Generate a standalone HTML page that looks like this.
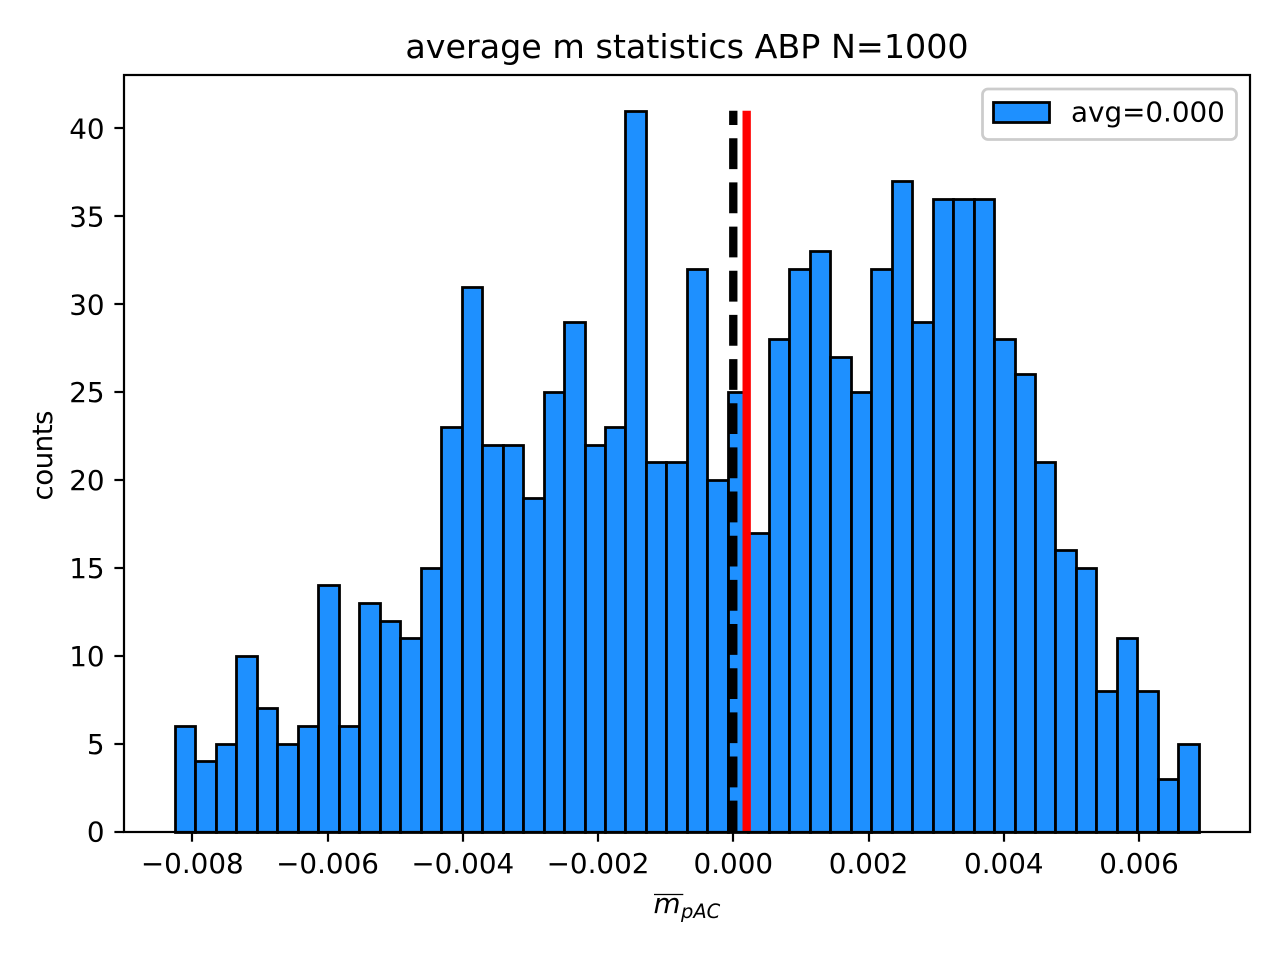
<!DOCTYPE html>
<html>
<head>
<meta charset="utf-8">
<title>average m statistics ABP N=1000</title>
<style>
html,body{margin:0;padding:0;background:#fff;}
svg{display:block;}
text{font-family:"DejaVu Sans","Liberation Sans",sans-serif;fill:#000;}
</style>
</head>
<body>
<svg id="chart" xmlns="http://www.w3.org/2000/svg" width="1280" height="960" viewBox="0 0 1280 960">
  <rect x="0" y="0" width="1280" height="960" fill="#fff"/>
  <text x="687" y="58" font-size="33.33" text-anchor="middle">average m statistics ABP N=1000</text>
  <text transform="translate(52,455.5) rotate(-90)" font-size="27.78" text-anchor="middle" textLength="90" lengthAdjust="spacing">counts</text>
  <g>
    <line x1="654" x2="683.3" y1="894.5" y2="894.5" stroke="#000" stroke-width="1.2"/>
    <text x="653.5" y="913" font-size="27.78" font-style="italic">m</text>
    <text x="681" y="918" font-size="19.44" font-style="italic">pAC</text>
  </g>
  <g id="bars"></g>
  <g id="lines"></g>
  <g id="ticks"></g>
  <g stroke="#000" stroke-width="2.2" fill="none">
    <rect x="124" y="75" width="1126" height="757"/>
  </g>
  <g>
    <rect x="982.5" y="89" width="254" height="50.5" rx="5.5" ry="5.5" fill="#fff" fill-opacity="0.8" stroke="#ccc" stroke-width="2.78"/>
    <rect x="993.5" y="102.5" width="56" height="20" fill="#1e90ff" stroke="#000" stroke-width="2.78"/>
    <text x="1071" y="121.5" font-size="27.78">avg=0.000</text>
  </g>
</svg>
<script>
const binStart = -0.008256;
const binEnd = 0.006884;
const counts = [6,4,5,10,7,5,6,14,6,13,12,11,15,23,31,22,22,19,25,29,22,23,41,21,21,32,20,25,17,28,32,33,27,25,32,37,29,36,36,36,28,26,21,16,15,8,11,8,3,5];
const xTickValues = [-0.008,-0.006,-0.004,-0.002,0,0.002,0.004,0.006];
const xTickLabels = ["\u22120.008","\u22120.006","\u22120.004","\u22120.002","0.000","0.002","0.004","0.006"];
const yTickValues = [0,5,10,15,20,25,30,35,40];
const yTickLabels = ["0","5","10","15","20","25","30","35","40"];
const zeroLineValue = 0;
const meanLineValue = 0.000198;
const lineTop = 41;

const NS = "http://www.w3.org/2000/svg";
const plotLeft = 123.8, plotRight = 1250, plotTop = 74.75, plotBottom = 831.5;
const span = binEnd - binStart;
const xMin = binStart - 0.05 * span, xMax = binEnd + 0.05 * span;
const yMax = Math.max.apply(null, counts) * 1.05;
function xScale(v){ return plotLeft + (v - xMin) / (xMax - xMin) * (plotRight - plotLeft); }
function yScale(v){ return plotBottom - v / yMax * (plotBottom - plotTop); }
function snap(p){ return Math.floor(p + 0.5) + 0.5; }
function make(tag, parent){ const el = document.createElementNS(NS, tag); parent.appendChild(el); return el; }

const barsG = document.getElementById("bars");
const binWidth = span / counts.length;
counts.forEach(function(c, i){
  const x0 = snap(xScale(binStart + i * binWidth));
  const x1 = snap(xScale(binStart + (i + 1) * binWidth));
  const y0 = snap(yScale(c));
  const y1 = snap(yScale(0));
  const r = make("rect", barsG);
  
  
  r.setAttribute("x", x0);
  r.setAttribute("y", y0);
  r.setAttribute("width", x1 - x0);
  r.setAttribute("height", y1 - y0);
  r.setAttribute("fill", "#1e90ff");
  r.setAttribute("stroke", "#000");
  r.setAttribute("stroke-width", "2.78");
});

const linesG = document.getElementById("lines");
const zeroLine = make("line", linesG);


zeroLine.setAttribute("x1", xScale(zeroLineValue));
zeroLine.setAttribute("x2", xScale(zeroLineValue));
zeroLine.setAttribute("y1", yScale(0));
zeroLine.setAttribute("y2", yScale(lineTop));
zeroLine.setAttribute("stroke", "#000");
zeroLine.setAttribute("stroke-width", "8.33");
zeroLine.setAttribute("stroke-dasharray", "30.83 13.33");

const meanLine = make("line", linesG);


meanLine.setAttribute("x1", xScale(meanLineValue));
meanLine.setAttribute("x2", xScale(meanLineValue));
meanLine.setAttribute("y1", yScale(0));
meanLine.setAttribute("y2", yScale(lineTop));
meanLine.setAttribute("stroke", "#f00");
meanLine.setAttribute("stroke-width", "8.33");

const ticksG = document.getElementById("ticks");
xTickValues.forEach(function(v, i){
  const x = Math.round(xScale(v));
  const t = make("line", ticksG);
  
  
  t.setAttribute("x1", x);
  t.setAttribute("x2", x);
  t.setAttribute("y1", 832);
  t.setAttribute("y2", 841.7);
  t.setAttribute("stroke", "#000");
  t.setAttribute("stroke-width", "2.2");
  const l = make("text", ticksG);
  
  
  l.setAttribute("x", xScale(v));
  l.setAttribute("y", 873);
  l.setAttribute("font-size", "27.78");
  l.setAttribute("text-anchor", "middle");
  l.textContent = xTickLabels[i];
});
yTickValues.forEach(function(v, i){
  const y = Math.round(yScale(v));
  const t = make("line", ticksG);
  
  
  t.setAttribute("x1", 114.4);
  t.setAttribute("x2", 124);
  t.setAttribute("y1", y);
  t.setAttribute("y2", y);
  t.setAttribute("stroke", "#000");
  t.setAttribute("stroke-width", "2.2");
  const l = make("text", ticksG);
  
  
  l.setAttribute("x", 104.6);
  l.setAttribute("y", yScale(v) + 10.2);
  l.setAttribute("font-size", "27.78");
  l.setAttribute("text-anchor", "end");
  l.textContent = yTickLabels[i];
});
</script>
</body>
</html>
